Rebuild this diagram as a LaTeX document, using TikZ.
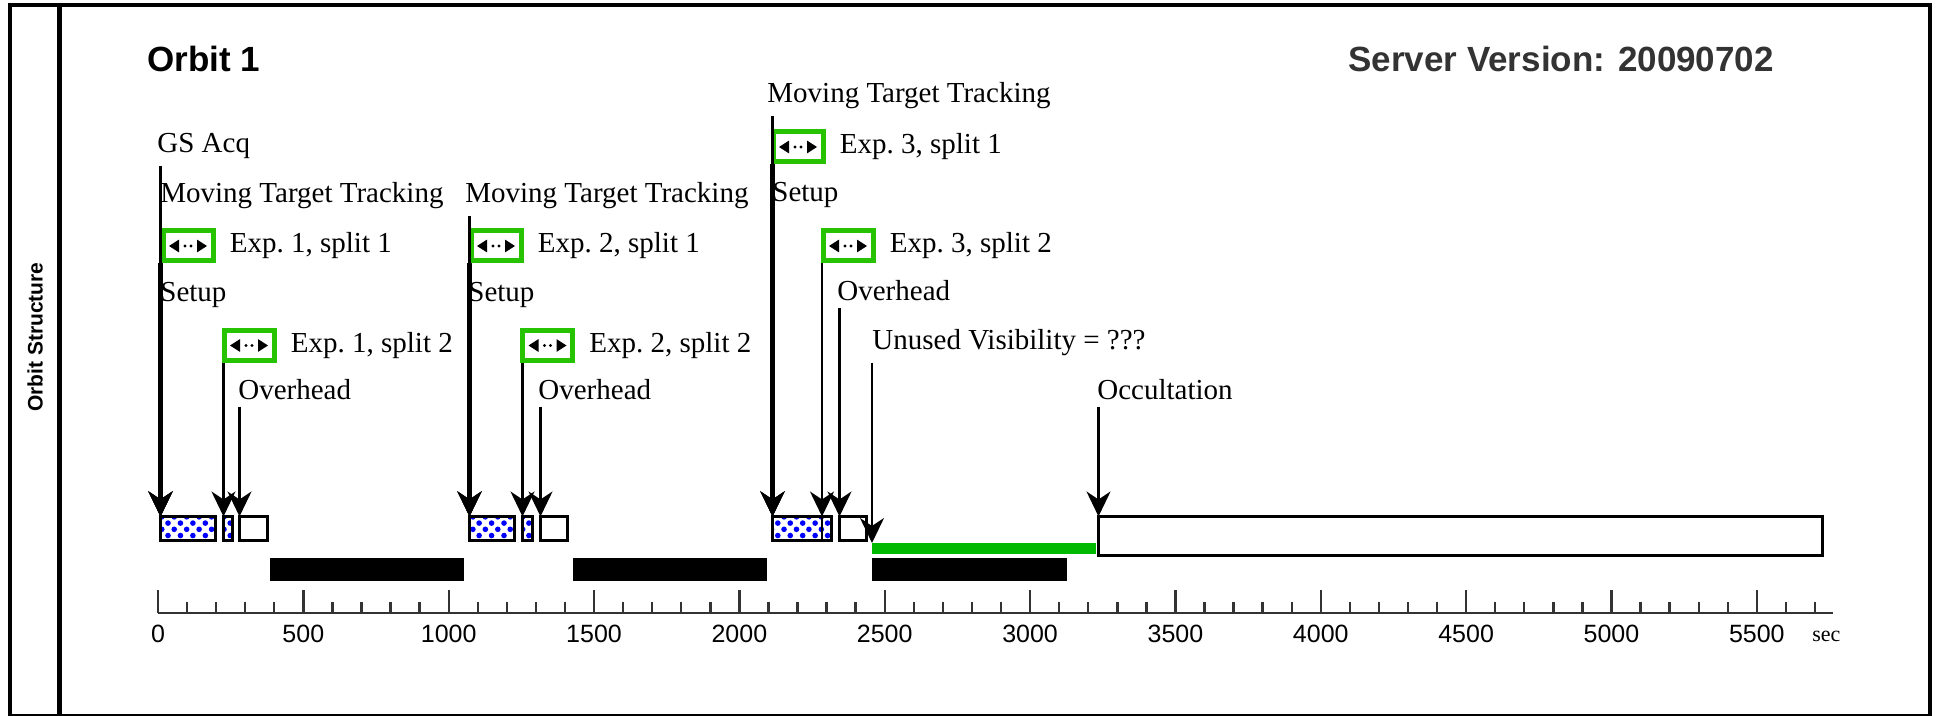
\documentclass[tikz,border=0pt]{standalone}
\usepackage{fontspec}
\setmainfont{Liberation Serif}
\setsansfont{Liberation Sans}
\usetikzlibrary{arrows.meta,positioning,fit,patterns.meta}
\definecolor{orbgreen}{RGB}{40,195,0}
\definecolor{visgreen}{RGB}{0,185,0}
\definecolor{orbgray}{RGB}{51,51,51}
\tikzset{
  frm/.style={line width=2.3pt, line join=miter},
  ttl/.style={anchor=base west, inner sep=0pt, font=\sffamily\bfseries\fontsize{17.5}{20}\selectfont},
  sidettl/.style={inner sep=0pt, font=\sffamily\bfseries\fontsize{10.5}{12}\selectfont},
  lbl/.style={anchor=base west, inner xsep=0pt, inner ysep=3pt, font=\fontsize{14.5}{17}\selectfont},
  expflag/.style={draw=orbgreen, line width=2.5pt, fill=white, minimum width=25pt, minimum height=15pt, inner sep=0pt,
    path picture={
      \fill[black] ([xshift=-9.5pt]path picture bounding box.center) -- ++(5pt,3.2pt) -- ++(0,-6.4pt) -- cycle;
      \fill[black] ([xshift=9.5pt]path picture bounding box.center) -- ++(-5pt,3.2pt) -- ++(0,-6.4pt) -- cycle;
      \fill[black] ([xshift=-1.5pt]path picture bounding box.center) circle (0.8pt);
      \fill[black] ([xshift=1.5pt]path picture bounding box.center) circle (0.8pt);
    }},
  expbar/.style={draw, line width=1.4pt, inner sep=0pt, outer sep=0pt,
    pattern={Dots[radius=1.4pt, distance=4.4pt, angle=45]}, pattern color=blue},
  ohbar/.style={draw, line width=1.4pt, fill=white, inner sep=0pt, outer sep=0pt},
  darkbar/.style={fill=black, inner sep=0pt, outer sep=0pt},
  visbar/.style={fill=visgreen, inner sep=0pt, outer sep=0pt},
  parr/.style={-{Stealth[length=12.5pt,width=12pt,inset=4pt]}, line width=1.3pt},
  parrw/.style={parr, line width=2.6pt},
  taxis/.style={orbgray, line width=1.2pt},
  ticklbl/.style={anchor=base, inner sep=0pt, font=\sffamily\fontsize{12.5}{14}\selectfont},
}
\begin{document}
\begin{tikzpicture}[x=0.5pt,y=-0.5pt]
\useasboundingbox (0,0) rectangle (1939,716);
\draw[frm] (10,716) -- (10,5) -- (1930,5) -- (1930,716);
\draw[frm, line width=0.9pt] (10,715) -- (1930,715);
\draw[frm] (59.5,5) -- (59.5,716);
\node[sidettl, rotate=90] (side) at (35,337) {Orbit Structure};
\node[ttl] (orbit) at (147,72) {Orbit 1};
\node[ttl, text=orbgray] (server) at (1348,72) {Server Version: 20090702};

\node[expbar, fit={(160.5,516.5) (215.5,540.5)}] (sbar1) {};
\node[expbar, fit={(223.5,516.5) (232.5,540.5)}] (xbar1) {};
\node[ohbar, fit={(239.5,516.5) (267.5,540.5)}] (obar1) {};
\node[darkbar, fit={(270,558) (464,581)}] (dbar1) {};
\node[expbar, fit={(469.5,516.5) (514.5,540.5)}] (sbar2) {};
\node[expbar, fit={(522.5,516.5) (532.5,540.5)}] (xbar2) {};
\node[ohbar, fit={(540.5,516.5) (567.5,540.5)}] (obar2) {};
\node[darkbar, fit={(573,558) (767,581)}] (dbar2) {};
\node[expbar, fit={(772.5,516.5) (822,540.5)}] (sbar3) {};
\node[expbar, fit={(822,516.5) (831.5,540.5)}] (xbar3) {};
\node[ohbar, fit={(839.5,516.5) (866.5,540.5)}] (obar3) {};
\node[darkbar, fit={(872,558) (1067,581)}] (dbar3) {};
\node[visbar, fit={(872,543) (1096,554)}] (vbar) {};
\node[ohbar, fit={(1098.5,516.5) (1822.5,555.5)}] (occbar) {};

\coordinate (t0) at (158,613);
\coordinate (tend) at (1833,613);
\draw[taxis, line width=1.3pt] (t0) -- (tend);
\foreach \t in {0,100,...,5700}
  \draw[taxis] ({158+0.2907*\t},613) -- ++(0,-11);
\foreach \t in {0,500,...,5500}{
  \draw[taxis] ({158+0.2907*\t},613) -- ++(0,-23);
  \node[ticklbl] (tk\t) at ({158+0.2907*\t},642) {\t};
}
\node[lbl, font=\fontsize{11}{13}\selectfont] (unit) at (1812,641) {sec};

\node[lbl] (gs) at (157,153) {GS Acq};
\node[lbl] (mtt1) at (160,203) {Moving Target Tracking};
\node[expflag] (exp11) at (188,246) {};
\node[lbl, right=7pt of exp11] (exp11t) {Exp.\ 1, split 1};
\node[lbl] (setup1) at (160,302) {Setup};
\node[expflag] (exp12) at (249,345.5) {};
\node[lbl, right=7pt of exp12] (exp12t) {Exp.\ 1, split 2};
\node[lbl] (ovh1) at (238,400) {Overhead};

\node[lbl] (mtt2) at (465,203) {Moving Target Tracking};
\node[expflag] (exp21) at (496,246) {};
\node[lbl, right=7pt of exp21] (exp21t) {Exp.\ 2, split 1};
\node[lbl] (setup2) at (468,302) {Setup};
\node[expflag] (exp22) at (547.5,345.5) {};
\node[lbl, right=7pt of exp22] (exp22t) {Exp.\ 2, split 2};
\node[lbl] (ovh2) at (538,400) {Overhead};

\node[lbl] (mtt3) at (767,103) {Moving Target Tracking};
\node[expflag] (exp31) at (798,147) {};
\node[lbl, right=7pt of exp31] (exp31t) {Exp.\ 3, split 1};
\node[lbl] (setup3) at (772,202) {Setup};
\node[expflag] (exp32) at (848,246) {};
\node[lbl, right=7pt of exp32] (exp32t) {Exp.\ 3, split 2};
\node[lbl] (ovh3) at (837,301) {Overhead};
\node[lbl] (unused) at (872,350) {Unused Visibility = ???};
\node[lbl] (occ) at (1097,400) {Occultation};

\draw[parr] (gs.south -| sbar1.north west) -- (sbar1.north west);
\draw[parr] (mtt1.south -| sbar1.north west) -- (sbar1.north west);
\draw[parrw] (exp11.south -| sbar1.north west) -- (sbar1.north west);
\draw[parrw] (setup1.south -| sbar1.north west) -- (sbar1.north west);
\draw[parr] (exp12.south -| xbar1.north west) -- (xbar1.north west);
\draw[parr] (ovh1.south -| obar1.north west) -- (obar1.north west);

\draw[parr] (mtt2.south -| sbar2.north west) -- (sbar2.north west);
\draw[parrw] (exp21.south -| sbar2.north west) -- (sbar2.north west);
\draw[parrw] (setup2.south -| sbar2.north west) -- (sbar2.north west);
\draw[parr] (exp22.south -| xbar2.north west) -- (xbar2.north west);
\draw[parr] (ovh2.south -| obar2.north west) -- (obar2.north west);

\draw[parr] (mtt3.south -| sbar3.north west) -- (sbar3.north west);
\draw[parrw] (exp31.south -| sbar3.north west) -- (sbar3.north west);
\draw[parrw] (setup3.south -| sbar3.north west) -- (sbar3.north west);
\draw[parr] (exp32.south -| xbar3.north west) -- (xbar3.north west);
\draw[parr] (ovh3.south -| obar3.north west) -- (obar3.north west);
\draw[parr] (unused.south -| vbar.north west) -- (vbar.north west);
\draw[parr] (occ.south -| occbar.north west) -- (occbar.north west);
\end{tikzpicture}
\end{document}
